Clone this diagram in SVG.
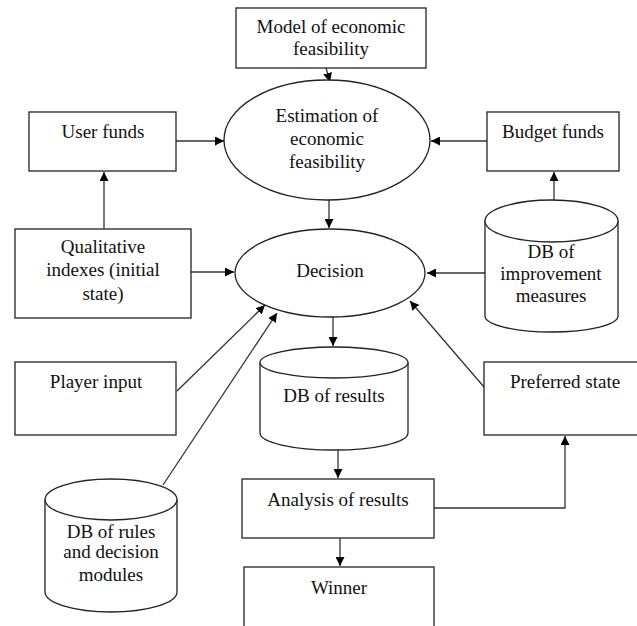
<svg xmlns="http://www.w3.org/2000/svg" width="637" height="626" viewBox="0 0 637 626">
<defs>
<style>
.n{fill:#fff;stroke:#222;stroke-width:1.3}
text{font-family:"Times New Roman","Liberation Serif","DejaVu Serif",serif;font-size:19px;fill:#111;text-anchor:middle}
.c{fill:none;stroke:#333;stroke-width:1.3}
</style>
<marker id="ah" viewBox="0 0 10 10" refX="10" refY="5" markerWidth="9" markerHeight="9" markerUnits="userSpaceOnUse" orient="auto">
<path d="M0,0 L10,5 L0,10 Z" fill="#000"/>
</marker>
</defs>
<rect width="637" height="626" fill="#fff"/>
<g id="connectors">
<path class="c" d="M326,68 L330,82" marker-end="url(#ah)"/>
<path class="c" d="M176,141 L224,141" marker-end="url(#ah)"/>
<path class="c" d="M487,141 L431,141" marker-end="url(#ah)"/>
<path class="c" d="M104,229 L104,172" marker-end="url(#ah)"/>
<path class="c" d="M554,200 L554,172" marker-end="url(#ah)"/>
<path class="c" d="M329,200 L329,228" marker-end="url(#ah)"/>
<path class="c" d="M191,272 L234,272" marker-end="url(#ah)"/>
<path class="c" d="M485,273 L427,273" marker-end="url(#ah)"/>
<path class="c" d="M177,391 L265,305" marker-end="url(#ah)"/>
<path class="c" d="M163,485 L277,313" marker-end="url(#ah)"/>
<path class="c" d="M484,387 L410,301" marker-end="url(#ah)"/>
<path class="c" d="M333,317 L333,346" marker-end="url(#ah)"/>
<path class="c" d="M338,450 L338,478" marker-end="url(#ah)"/>
<path class="c" d="M340,538 L340,566" marker-end="url(#ah)"/>
<path class="c" d="M434,508 L565,508 L565,436" marker-end="url(#ah)"/>
</g>
<g id="model">
<rect class="n" x="236" y="8" width="190" height="60"/>
<text x="331" y="33">Model of economic</text>
<text x="331" y="55">feasibility</text>
</g>
<g id="estimation">
<ellipse class="n" cx="327" cy="140" rx="103" ry="60"/>
<text x="327" y="122">Estimation of</text>
<text x="327" y="145">economic</text>
<text x="327" y="168">feasibility</text>
</g>
<g id="user-funds">
<rect class="n" x="29" y="112" width="147" height="59"/>
<text x="103" y="138">User funds</text>
</g>
<g id="budget-funds">
<rect class="n" x="487" y="112" width="132" height="59"/>
<text x="553" y="138">Budget funds</text>
</g>
<g id="qualitative">
<rect class="n" x="15" y="229" width="176" height="89"/>
<text x="103" y="253">Qualitative</text>
<text x="103" y="276">indexes (initial</text>
<text x="103" y="300">state)</text>
</g>
<g id="decision">
<ellipse class="n" cx="330" cy="273" rx="95" ry="44"/>
<text x="330" y="277">Decision</text>
</g>
<g id="db-improvement">
<path class="n" d="M485,221 L485,316 A66.5,16 0 0 0 618,316 L618,221"/>
<ellipse class="n" cx="551.5" cy="221" rx="66.5" ry="21"/>
<text x="551" y="258">DB of</text>
<text x="551" y="280">improvement</text>
<text x="551" y="302">measures</text>
</g>
<g id="player-input">
<rect class="n" x="15" y="362" width="161" height="73"/>
<text x="96" y="388">Player input</text>
</g>
<g id="db-results">
<path class="n" d="M260,362.5 L260,433 A74,17 0 0 0 408,433 L408,362.5"/>
<ellipse class="n" cx="334" cy="362.5" rx="74" ry="15.5"/>
<text x="334" y="402">DB of results</text>
</g>
<g id="preferred-state">
<rect class="n" x="484" y="362" width="160" height="73"/>
<text x="565" y="388">Preferred state</text>
</g>
<g id="db-rules">
<path class="n" d="M45,499.5 L45,592 A66,20 0 0 0 177,592 L177,499.5"/>
<ellipse class="n" cx="111" cy="499.5" rx="66" ry="20.5"/>
<text x="111" y="538">DB of rules</text>
<text x="111" y="558">and decision</text>
<text x="111" y="581">modules</text>
</g>
<g id="analysis">
<rect class="n" x="242" y="479" width="192" height="59"/>
<text x="338" y="506">Analysis of results</text>
</g>
<g id="winner">
<rect class="n" x="244" y="567" width="190" height="70"/>
<text x="339" y="594">Winner</text>
</g>
</svg>
